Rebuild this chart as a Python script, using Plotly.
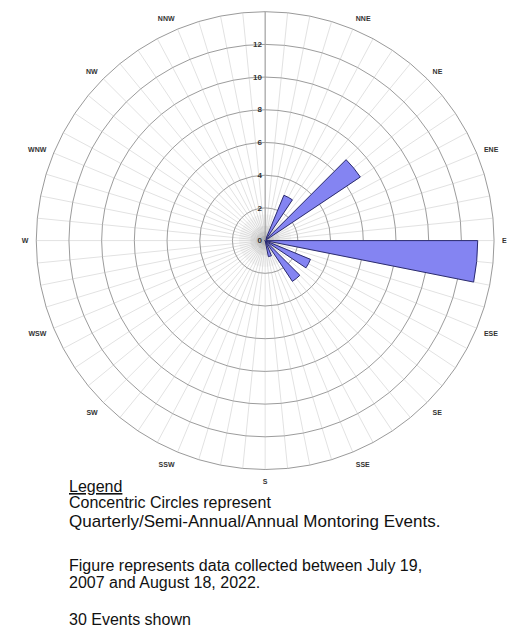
import plotly.graph_objects as go

# Wind-rose style tally of monitoring events by direction (32 sectors of 11.25 deg)
sector_centers = [28.125, 50.625, 95.625, 118.125, 140.625, 163.125]
event_counts = [3, 7, 13, 3, 3, 1]
sector_width = 11.25

compass_labels = ["", "NNE", "NE", "ENE", "E", "ESE", "SE", "SSE",
                  "S", "SSW", "SW", "WSW", "W", "WNW", "NW", "NNW"]
radial_ticks = [0, 2, 4, 6, 8, 10, 12]

# 64 spokes; only every 4th one carries a compass label
spoke_angles = [i * 5.625 for i in range(64)]
spoke_text = [compass_labels[i // 4] if i % 4 == 0 else "" for i in range(64)]

fig = go.Figure()

# soft grey shading around the origin
for rr, op in [(1.6, 0.05), (0.9, 0.08), (0.55, 0.12), (0.3, 0.18)]:
    fig.add_trace(go.Barpolar(
        r=[rr] * 64, theta=spoke_angles, width=[5.625] * 64,
        marker=dict(color=f"rgba(120,120,120,{op})", line=dict(width=0)),
        hoverinfo="skip", showlegend=False))

fig.add_trace(go.Barpolar(
    r=event_counts, theta=sector_centers, width=[sector_width] * len(event_counts),
    marker=dict(color="#8484f2", line=dict(color="#2a2a70", width=1)),
    showlegend=False))

fig.update_layout(
    width=507, height=635,
    margin=dict(l=0, r=0, t=0, b=0),
    paper_bgcolor="white",
    font=dict(family="Liberation Sans, Arial, sans-serif"),
    polar=dict(
        domain=dict(x=[0.0715, 0.9745], y=[0.2605, 0.9817]),
        bgcolor="white",
        barmode="overlay",
        radialaxis=dict(
            range=[0, 14], tickvals=radial_ticks,
            angle=90, tickangle=90, side="counterclockwise",
            showline=True, linecolor="#9a9a9a", linewidth=1,
            gridcolor="#9c9c9c", gridwidth=1,
            ticks="", tickfont=dict(size=8, color="#333333", weight="bold",
                                    family="Liberation Sans, Arial, sans-serif"),
        ),
        angularaxis=dict(
            rotation=90, direction="clockwise",
            tickmode="array", tickvals=spoke_angles, ticktext=spoke_text,
            ticks="outside", ticklen=6, tickcolor="rgba(0,0,0,0)",
            gridcolor="#e2e2e2", gridwidth=1,
            showline=True, linecolor="#9a9a9a", linewidth=1,
            tickfont=dict(size=7, color="#333333", weight="bold",
                          family="Liberation Sans, Arial, sans-serif"),
        ),
    ),
)

legend_lines = [
    ("<u>Legend</u>", 487, 16),
    ("Concentric Circles represent", 503, 16),
    ("Quarterly/Semi-Annual/Annual Montoring Events.", 521, 17),
    ("Figure represents data collected between July 19,", 565, 16),
    ("2007 and August 18, 2022.", 582, 16),
    ("30 Events shown", 619, 16),
]
for txt, ypx, fs in legend_lines:
    fig.add_annotation(
        text=txt, xref="paper", yref="paper",
        x=67 / 507, y=1 - ypx / 635, xanchor="left", yanchor="middle",
        showarrow=False, font=dict(size=fs, color="#111111",
                                   family="Liberation Sans, Arial, sans-serif"))

fig.write_html("out.html")
